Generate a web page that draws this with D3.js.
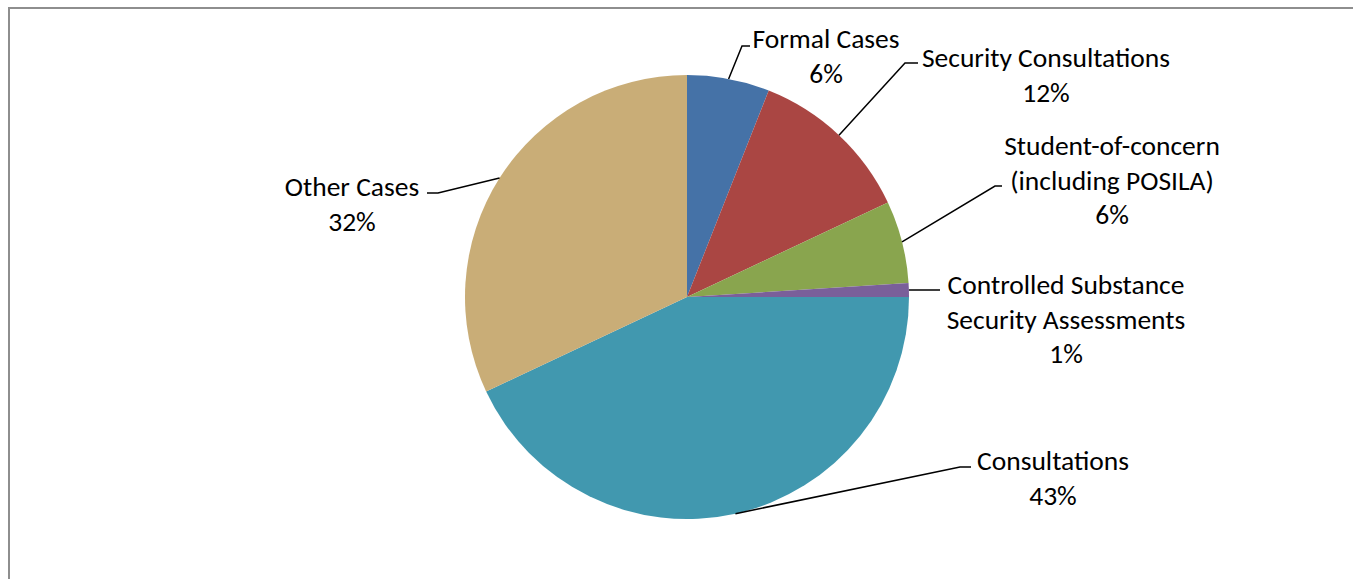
<!DOCTYPE html>
<html>
<head>
<meta charset="utf-8">
<script src="https://cdn.jsdelivr.net/npm/d3@7"></script>
<style>
  html, body { margin: 0; padding: 0; background: #fff; }
  svg { display: block; }
  text { font-family: Calibri, Carlito, "Open Sans", "Liberation Sans", sans-serif; font-size: 27.5px; fill: #000; }
</style>
</head>
<body>
<svg id="chart" width="1353" height="579"></svg>
<script>
// Case categories, clockwise from 12 o'clock
const categories = [
  "Formal Cases",
  "Security Consultations",
  "Student-of-concern (including POSILA)",
  "Controlled Substance Security Assessments",
  "Consultations",
  "Other Cases"
];
// Share of cases, percent
const shares = [6, 12, 6, 1, 43, 32];
// Label lines as they wrap in each data label
const labelLines = [
  ["Formal Cases"],
  ["Security Consultations"],
  ["Student-of-concern", "(including POSILA)"],
  ["Controlled Substance", "Security Assessments"],
  ["Consultations"],
  ["Other Cases"]
];
const colors = ["#4572A7", "#AA4643", "#89A54E", "#7A5F9A", "#4198AF", "#C9AD77"];

// Label placement: text block centre (x, first-line y) and leader-line elbow
const labelLayout = [
  { x: 826, y: 38,  elbow: [742, 46],  end: [750, 46] },
  { x: 1046, y: 57, elbow: [905, 63],  end: [918, 63] },
  { x: 1112, y: 145, elbow: [995, 186], end: [1002, 186] },
  { x: 1066, y: 284, elbow: [912, 290], end: [940, 290] },
  { x: 1053, y: 460, elbow: [960, 467], end: [971, 467] },
  { x: 352, y: 186, elbow: [438, 193], end: [427, 193] }
];

const svg = d3.select("#chart");
const cx = 687, cy = 297, radius = 222, lineGap = 34.5;

// Chart area frame
svg.append("rect")
  .attr("x", 9).attr("y", 8)
  .attr("width", 1400).attr("height", 700)
  .attr("fill", "none")
  .attr("stroke", "#8e8e8e")
  .attr("stroke-width", 2);

const data = categories.map((c, i) => ({ name: c, value: shares[i], i }));

const pie = d3.pie().value(d => d.value).sort(null);
const arc = d3.arc().innerRadius(0).outerRadius(radius);
const arcs = pie(data);

const g = svg.append("g").attr("transform", `translate(${cx},${cy})`);

g.selectAll("path.slice")
  .data(arcs)
  .join("path")
  .attr("class", "slice")
  .attr("d", arc)
  .attr("fill", d => colors[d.data.i]);

// Leader lines from the slice rim to the label
const edgePoint = a => {
  const m = (a.startAngle + a.endAngle) / 2;
  return [cx + radius * Math.sin(m), cy - radius * Math.cos(m)];
};

svg.selectAll("path.leader")
  .data(arcs)
  .join("path")
  .attr("class", "leader")
  .attr("fill", "none")
  .attr("stroke", "#000")
  .attr("stroke-width", 1.5)
  .attr("d", d => {
    const L = labelLayout[d.data.i];
    const p = edgePoint(d);
    return d3.line()([p, L.elbow, L.end]);
  });

// Data labels: category name and percentage
const labels = svg.selectAll("text.label")
  .data(arcs)
  .join("text")
  .attr("class", "label")
  .attr("text-anchor", "middle")
  .attr("dominant-baseline", "central");

labels.each(function(d) {
  const L = labelLayout[d.data.i];
  const lines = labelLines[d.data.i].concat([d3.format(".0f")(d.data.value) + "%"]);
  d3.select(this).selectAll("tspan")
    .data(lines)
    .join("tspan")
    .attr("x", L.x)
    .attr("y", (t, k) => L.y + k * lineGap)
    .text(t => t);
});
</script>
</body>
</html>
